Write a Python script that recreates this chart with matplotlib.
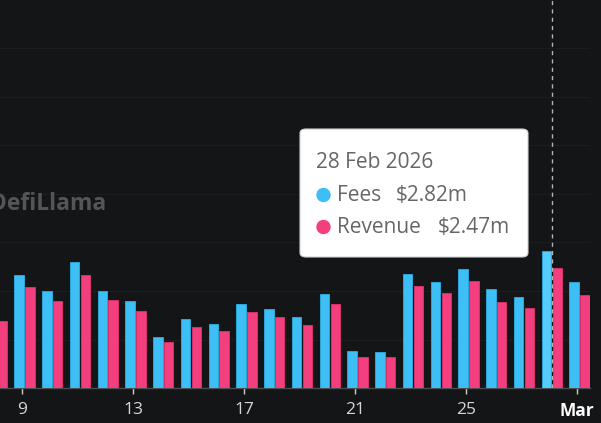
import matplotlib
matplotlib.use("Agg")
import matplotlib.pyplot as plt
from matplotlib.patches import FancyBboxPatch, Circle
import numpy as np

# days counted from 1 Feb 2026 (Mar 1 -> 29)
days = list(range(8, 30))
fees = [1.55, 2.33, 2.00, 2.60, 2.00, 1.79, 1.05, 1.42, 1.32, 1.73, 1.63,
        1.47, 1.93, 0.76, 0.74, 2.36, 2.18, 2.46, 2.04, 1.88, 2.82, 2.19]
revenue = [1.38, 2.09, 1.80, 2.33, 1.82, 1.59, 0.94, 1.25, 1.18, 1.56, 1.47,
           1.30, 1.74, 0.64, 0.64, 2.11, 1.96, 2.20, 1.78, 1.65, 2.47, 1.91]
tick_days = [9, 13, 17, 21, 25, 29]
tick_labels = ["9", "13", "17", "21", "25", "Mar"]
hover_day = 28
hover_date = "28 Feb 2026"

BG = "#141517"
CYAN = "#3dbef5"
PINK = "#f43f7e"
W, H = 601, 423

plt.rcParams['font.family'] = ['Open Sans', 'DejaVu Sans']

fig = plt.figure(figsize=(W / 100, H / 100), dpi=100, facecolor=BG)
ax = fig.add_axes([0, 35 / H, 590 / W, 1 - 35 / H])
ax.set_facecolor(BG)


def px(x, y):
    return x / W, 1 - y / H


x = np.array(days, dtype=float)
bw = 0.34
fee_cols = [("#55cdfc" if d == hover_day else CYAN) for d in days]
ax.bar(x - 0.19, fees, width=bw, color=fee_cols, edgecolor="#2aa6da",
       linewidth=0.7, zorder=3)
ax.bar(x + 0.20, revenue, width=bw, color=PINK, edgecolor="#d8306b",
       linewidth=0.7, zorder=3)

ax.set_xlim(8.121, 29.38)
ax.set_ylim(0, 8.0)
ax.set_yticks(range(1, 8))
ax.yaxis.grid(True, color="#1c1d20", linewidth=0.8, zorder=0)
ax.tick_params(axis="y", left=False, labelleft=False)

ax.set_xticks([t - 0.076 for t in tick_days])
ax.set_xticklabels(tick_labels)
ax.tick_params(axis="x", colors="#cfcfcf", length=4, width=1, pad=6,
               labelsize=12.5, labelcolor="#d6d6d6")
ax.get_xticklabels()[-1].set_fontweight("bold")
ax.get_xticklabels()[-1].set_color("white")

for s in ["top", "left", "right"]:
    ax.spines[s].set_visible(False)
ax.spines["bottom"].set_color("#4a4c50")
ax.spines["bottom"].set_linewidth(1)

ax.axvline(hover_day, color="#b5b5b5", linestyle=(0, (3, 3)), linewidth=1,
           zorder=4)

# watermark
fig.text(*px(106, 204), "DefiLlama", ha="right", va="center", fontsize=16.5,
         fontweight="bold", color="#545558")

# tooltip
bx, by = px(300, 257)
box = FancyBboxPatch((bx, by), 228 / W, 128 / H,
                     boxstyle="round,pad=0,rounding_size=0.01",
                     transform=fig.transFigure, facecolor="white",
                     edgecolor="#d0d0d0", linewidth=0.8, zorder=10)
fig.patches.append(box)
fig.text(*px(316, 162), hover_date, ha="left", va="center", fontsize=15,
         color="#666666", zorder=11)
idx = days.index(hover_day)
rows = [("Fees", fees[idx], CYAN, 195, 396),
        ("Revenue", revenue[idx], PINK, 227, 438)]
for name, val, col, yy, vx in rows:
    dot = Circle((323.5, H - yy), 7.2, transform=None, facecolor=col,
                 edgecolor="none", zorder=11)
    fig.patches.append(dot)
    fig.text(*px(337, yy), name, ha="left", va="center",
             fontsize=15, color="#666666", zorder=11)
    fig.text(*px(vx, yy), f"${val:.2f}m", ha="left", va="center",
             fontsize=15, color="#666666", zorder=11)

fig.savefig("out.png", dpi=100, facecolor=BG)
